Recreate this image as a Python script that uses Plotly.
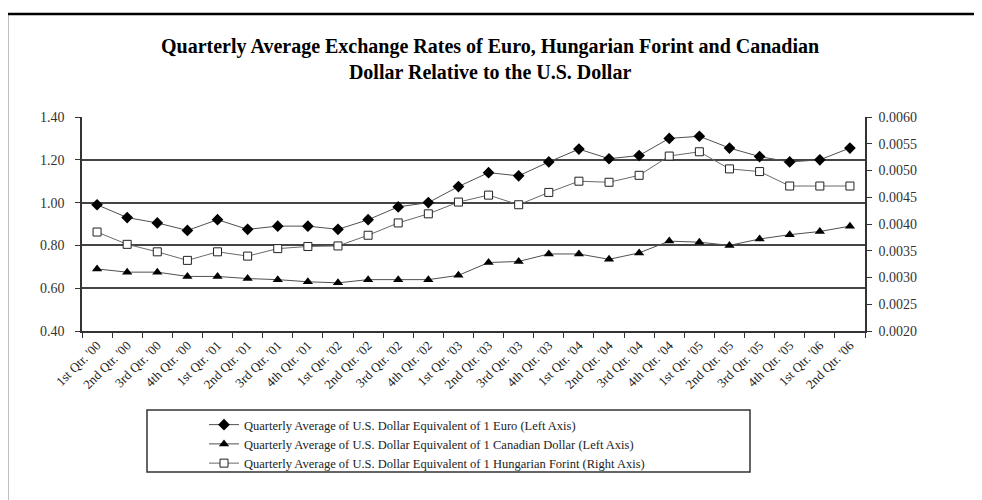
import plotly.graph_objects as go

# quarter labels
quarters = ["1st Qtr. '00", "2nd Qtr. '00", "3rd Qtr. '00", "4th Qtr. '00",
            "1st Qtr. '01", "2nd Qtr. '01", "3rd Qtr. '01", "4th Qtr. '01",
            "1st Qtr. '02", "2nd Qtr. '02", "3rd Qtr. '02", "4th Qtr. '02",
            "1st Qtr. '03", "2nd Qtr. '03", "3rd Qtr. '03", "4th Qtr. '03",
            "1st Qtr. '04", "2nd Qtr. '04", "3rd Qtr. '04", "4th Qtr. '04",
            "1st Qtr. '05", "2nd Qtr. '05", "3rd Qtr. '05", "4th Qtr. '05",
            "1st Qtr. '06", "2nd Qtr. '06"]

# left axis series
euro = [0.99, 0.93, 0.905, 0.87, 0.92, 0.875, 0.89, 0.89, 0.875, 0.92,
        0.98, 1.00, 1.075, 1.14, 1.125, 1.19, 1.25, 1.205, 1.22, 1.30,
        1.31, 1.255, 1.215, 1.19, 1.20, 1.255]
cad = [0.69, 0.675, 0.675, 0.655, 0.655, 0.645, 0.64, 0.63, 0.625, 0.64,
       0.64, 0.64, 0.66, 0.72, 0.725, 0.76, 0.76, 0.735, 0.765, 0.82,
       0.815, 0.80, 0.83, 0.85, 0.865, 0.89]

# right axis series
huf = [0.00385, 0.00362, 0.00348, 0.00332, 0.00348, 0.0034, 0.00354, 0.00358,
       0.00359, 0.00379, 0.00402, 0.00419, 0.00441, 0.00454, 0.00436, 0.00459,
       0.0048, 0.00478, 0.00491, 0.00527, 0.00535, 0.00503, 0.00498, 0.00471,
       0.00471, 0.00471]

names = ['Quarterly Average of U.S. Dollar Equivalent of 1 Euro (Left Axis)',
         'Quarterly Average of U.S. Dollar Equivalent of 1 Canadian Dollar (Left Axis)',
         'Quarterly Average of U.S. Dollar Equivalent of 1 Hungarian Forint (Right Axis)']

serif = 'Liberation Serif, Times New Roman, serif'
line_col = '#505050'

fig = go.Figure()
fig.add_trace(go.Scatter(x=quarters, y=euro, name=names[0], mode='lines+markers',
                         line=dict(color=line_col, width=1),
                         marker=dict(symbol='diamond', size=9, color='black')))
fig.add_trace(go.Scatter(x=quarters, y=cad, name=names[1], mode='lines+markers',
                         line=dict(color=line_col, width=1),
                         marker=dict(symbol='triangle-up', size=9, color='black')))
fig.add_trace(go.Scatter(x=quarters, y=huf, name=names[2], mode='lines+markers', yaxis='y2',
                         line=dict(color='#6a6a6a', width=1),
                         marker=dict(symbol='square', size=8, color='white',
                                     line=dict(color='#222', width=1))))

# the page puts the figure 8px in from the top-left corner, so page
# positions are shifted by 8 before mapping to paper coordinates.
# plot area on the page: x 82..865, y 117..331
off = 8
pw, ph = 783.0, 214.0
def px_x(v):
    return (v - 82) / pw
def px_y(v):
    return (331 - v) / ph

fig.update_layout(
    width=982 - off, height=500 - off,
    margin=dict(l=82 - off, r=117, t=117 - off, b=169),
    paper_bgcolor='white', plot_bgcolor='white',
    font=dict(family=serif, size=13, color='#333'),
    showlegend=True,
    legend=dict(x=px_x(204), y=px_y(410), xanchor='left', yanchor='top',
                font=dict(family=serif, size=12.5, color='#222'),
                bgcolor='rgba(0,0,0,0)', borderwidth=0, tracegroupgap=0),
    xaxis=dict(type='category', range=[-0.5, 25.5], tickson='boundaries',
               ticks='outside', ticklen=5, tickcolor='#333', tickangle=-45,
               showline=True, linecolor='#333', linewidth=1.5, showgrid=False,
               tickfont=dict(family=serif, size=13, color='#222')),
    yaxis=dict(range=[0.40, 1.40], dtick=0.2, tickformat='.2f',
               ticks='outside', ticklen=5, tickcolor='#333',
               showline=True, linecolor='#333', linewidth=1.5,
               showgrid=True, gridcolor='#444', gridwidth=1.5, zeroline=False,
               ticklabelstandoff=8,
               tickfont=dict(family=serif, size=14, color='#333')),
    yaxis2=dict(range=[0.0020, 0.0060], dtick=0.0005, tickformat='.4f',
                overlaying='y', side='right',
                ticks='outside', ticklen=5, tickcolor='#333',
                showline=True, linecolor='#333', linewidth=1.5,
                showgrid=False, zeroline=False, ticklabelstandoff=4,
                tickfont=dict(family=serif, size=14, color='#333')),
)

fig.add_annotation(
    text='<b>Quarterly Average Exchange Rates of Euro, Hungarian Forint and Canadian<br>'
         'Dollar Relative to the U.S. Dollar</b>',
    xref='paper', yref='paper', x=px_x(490), y=px_y(59),
    xanchor='center', yanchor='middle', showarrow=False, align='center',
    font=dict(family=serif, size=20, color='black'))

# legend box
fig.add_shape(type='rect', xref='paper', yref='paper',
              x0=px_x(147), x1=px_x(750), y0=px_y(472), y1=px_y(410),
              line=dict(color='#333', width=1.5), fillcolor='rgba(0,0,0,0)')

# outer frame of the page: only the left and top edges show
fig.add_shape(type='line', xref='paper', yref='paper',
              x0=px_x(7), x1=px_x(7), y0=px_y(14), y1=px_y(560),
              line=dict(color='black', width=2.5))
fig.add_shape(type='line', xref='paper', yref='paper',
              x0=px_x(5), x1=px_x(1100), y0=px_y(14), y1=px_y(14),
              line=dict(color='black', width=2.5))

fig.write_html('out.html')
